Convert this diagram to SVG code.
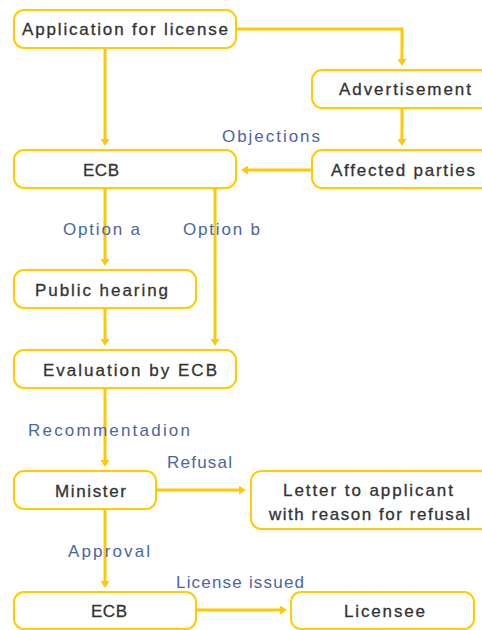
<svg xmlns="http://www.w3.org/2000/svg" width="482" height="630" viewBox="0 0 482 630">
<style>
.box{fill:#fff;stroke:#FFCC00;stroke-width:2}
.t{font-family:"Liberation Sans",Arial,sans-serif;font-size:17px;fill:#333;stroke:#333;stroke-width:0.3}
.l{font-family:"Liberation Sans",Arial,sans-serif;font-size:17px;fill:#4A66A0}
.c{fill:none;stroke:#FFC800;stroke-width:3}
</style>
<defs>
<marker id="ah" markerWidth="3" markerHeight="3" refX="1" refY="1.5" orient="auto" markerUnits="strokeWidth">
<path d="M0,0 L2.3,1.5 L0,3 Z" fill="#FFC800"/>
</marker>
</defs>
<rect width="482" height="630" fill="#fff"/>
<g id="connectors">
<path class="c" d="M236,29 H402 V62" marker-end="url(#ah)"/>
<path class="c" d="M105,48 V142" marker-end="url(#ah)"/>
<path class="c" d="M402,108 V142" marker-end="url(#ah)"/>
<path class="c" d="M312,170 H245" marker-end="url(#ah)"/>
<path class="c" d="M105,188 V262" marker-end="url(#ah)"/>
<path class="c" d="M215,188 V342" marker-end="url(#ah)"/>
<path class="c" d="M105,308 V342" marker-end="url(#ah)"/>
<path class="c" d="M105,388 V463" marker-end="url(#ah)"/>
<path class="c" d="M156,490 H242" marker-end="url(#ah)"/>
<path class="c" d="M105,509 V584" marker-end="url(#ah)"/>
<path class="c" d="M196,610 H283" marker-end="url(#ah)"/>
</g>
<g id="labels">
<text class="l" x="222" y="142" textLength="98" lengthAdjust="spacing">Objections</text>
<text class="l" x="63" y="235" textLength="77" lengthAdjust="spacing">Option a</text>
<text class="l" x="183" y="235" textLength="77" lengthAdjust="spacing">Option b</text>
<text class="l" x="28" y="436" textLength="162" lengthAdjust="spacing">Recommentadion</text>
<text class="l" x="167" y="468" textLength="65" lengthAdjust="spacing">Refusal</text>
<text class="l" x="68" y="557" textLength="82" lengthAdjust="spacing">Approval</text>
<text class="l" x="176" y="588" textLength="128" lengthAdjust="spacing">License issued</text>
</g>
<g id="application">
<rect class="box" x="14" y="10" width="222" height="38" rx="10"/>
<text class="t" x="22" y="35" textLength="206" lengthAdjust="spacing">Application for license</text>
</g>
<g id="advertisement">
<rect class="box" x="312" y="70" width="190" height="38" rx="10"/>
<text class="t" x="339" y="95" textLength="132" lengthAdjust="spacing">Advertisement</text>
</g>
<g id="ecb1">
<rect class="box" x="14" y="150" width="222" height="38" rx="10"/>
<text class="t" x="83" y="176" textLength="36" lengthAdjust="spacing">ECB</text>
</g>
<g id="affected">
<rect class="box" x="312" y="150" width="190" height="38" rx="10"/>
<text class="t" x="331" y="176" textLength="144" lengthAdjust="spacing">Affected parties</text>
</g>
<g id="public">
<rect class="box" x="14" y="270" width="182" height="38" rx="10"/>
<text class="t" x="35" y="296" textLength="133" lengthAdjust="spacing">Public hearing</text>
</g>
<g id="evaluation">
<rect class="box" x="14" y="350" width="222" height="38" rx="10"/>
<text class="t" x="43" y="376" textLength="174" lengthAdjust="spacing">Evaluation by ECB</text>
</g>
<g id="minister">
<rect class="box" x="14" y="471" width="142" height="38" rx="10"/>
<text class="t" x="55" y="497" textLength="71" lengthAdjust="spacing">Minister</text>
</g>
<g id="letter">
<rect class="box" x="251" y="471" width="250" height="58" rx="10"/>
<text class="t" x="283" y="496" textLength="170" lengthAdjust="spacing">Letter to applicant</text>
<text class="t" x="269" y="520" textLength="201" lengthAdjust="spacing">with reason for refusal</text>
</g>
<g id="ecb2">
<rect class="box" x="14" y="592" width="182" height="37" rx="10"/>
<text class="t" x="91" y="617" textLength="36" lengthAdjust="spacing">ECB</text>
</g>
<g id="licensee">
<rect class="box" x="291" y="592" width="183" height="37" rx="10"/>
<text class="t" x="344" y="617" textLength="81" lengthAdjust="spacing">Licensee</text>
</g>
</svg>
